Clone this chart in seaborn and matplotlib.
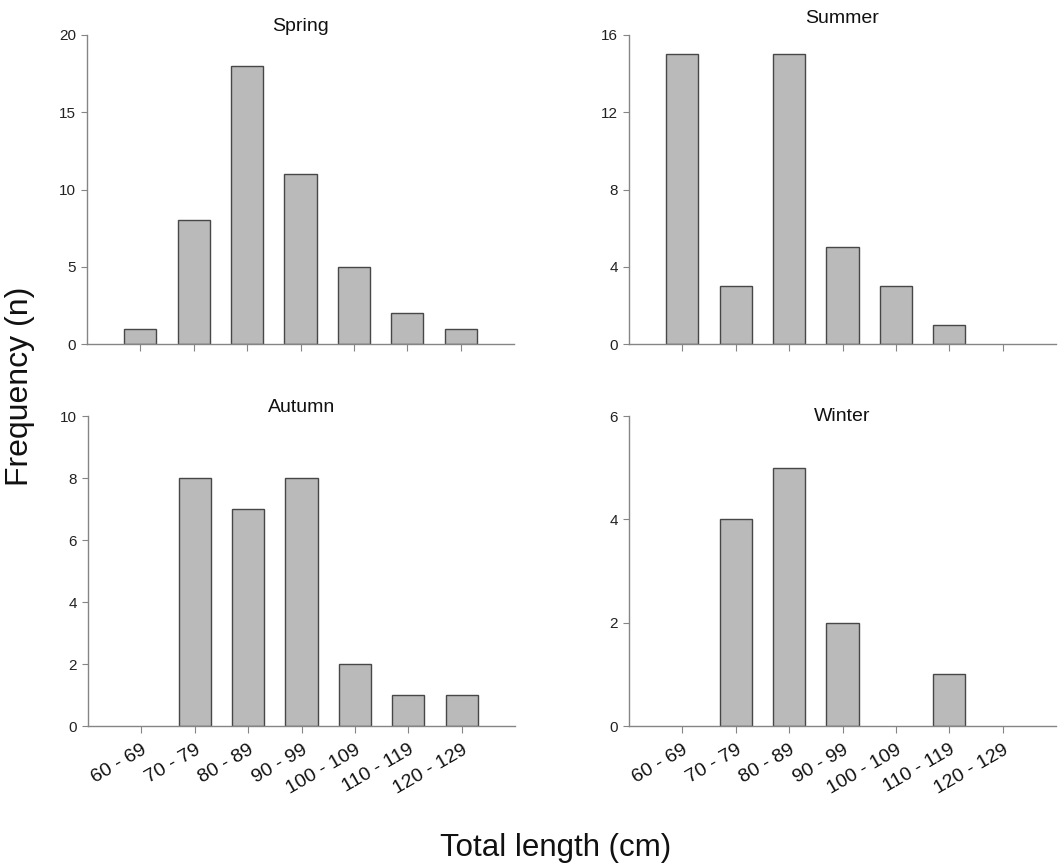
import matplotlib
matplotlib.use("Agg")
import matplotlib.pyplot as plt
import seaborn as sns
import pandas as pd

categories = ["60 - 69", "70 - 79", "80 - 89", "90 - 99", "100 - 109", "110 - 119", "120 - 129"]
spring = [1, 8, 18, 11, 5, 2, 1]
summer = [15, 3, 15, 5, 3, 1, 0]
autumn = [0, 8, 7, 8, 2, 1, 1]
winter = [0, 4, 5, 2, 0, 1, 0]
seasons = ["Spring", "Summer", "Autumn", "Winter"]
y_ticks = {
    "Spring": [0, 5, 10, 15, 20],
    "Summer": [0, 4, 8, 12, 16],
    "Autumn": [0, 2, 4, 6, 8, 10],
    "Winter": [0, 2, 4, 6],
}

sns.set_theme(style="ticks")
plt.rcParams["font.family"] = ["Liberation Sans", "DejaVu Sans"]

fig = plt.figure(figsize=(10.59, 8.65), dpi=100)
W, H = 1059, 865
positions = {
    "Spring": [87 / W, (H - 344) / H, 427 / W, 309 / H],
    "Summer": [629 / W, (H - 344) / H, 427 / W, 309 / H],
    "Autumn": [88 / W, (H - 726) / H, 427 / W, 310 / H],
    "Winter": [629 / W, (H - 726) / H, 427 / W, 310 / H],
}
# title baseline offset above the axes top, in pixels
title_offset = {"Spring": 4, "Summer": 12, "Autumn": 4, "Winter": -5}
data = {"Spring": spring, "Summer": summer, "Autumn": autumn, "Winter": winter}

spine_col = "#858585"
for s in seasons:
    ax = fig.add_axes(positions[s])
    df = pd.DataFrame({"cat": categories, "n": data[s]})
    sns.barplot(data=df, x="cat", y="n", order=categories, color="#bababa",
                saturation=1, width=0.6, edgecolor="#474747", linewidth=1.0, ax=ax)
    for p in ax.patches:
        if p.get_height() == 0:
            p.set_visible(False)
    ax.set_xlim(-1, 7)
    yt = y_ticks[s]
    ax.set_ylim(0, yt[-1])
    ax.set_yticks(yt)
    ax.set_yticklabels([str(v) for v in yt], fontsize=11, color="#222222")
    ax.set_xlabel("")
    ax.set_ylabel("")
    axh = positions[s][3] * H
    ax.text(0.5, 1 + title_offset[s] / axh, s, transform=ax.transAxes,
            ha="center", va="baseline", fontsize=14, color="#111111")
    for side in ["top", "right"]:
        ax.spines[side].set_visible(False)
    for side in ["left", "bottom"]:
        ax.spines[side].set_color(spine_col)
        ax.spines[side].set_linewidth(1.0)
    ax.tick_params(axis="y", direction="out", length=4, width=0.8, color=spine_col, pad=4)
    ax.tick_params(axis="x", direction="out", length=5, width=0.8, color=spine_col, pad=6)
    ax.set_xticks(range(len(categories)))
    if s in ("Autumn", "Winter"):
        ax.set_xticklabels(categories, rotation=30, ha="right", rotation_mode="anchor",
                           fontsize=14, color="#111111")
    else:
        ax.set_xticklabels([])
    ax.set_facecolor("white")

fig.text(0.019, 1 - 386 / H, "Frequency (n)", rotation=90, ha="center", va="center",
         fontsize=23, color="#111111")
fig.text(556 / W, 1 - 856 / H, "Total length (cm)", ha="center", va="baseline",
         fontsize=22.5, color="#111111")

fig.savefig("out.png", dpi=100, facecolor="white")
